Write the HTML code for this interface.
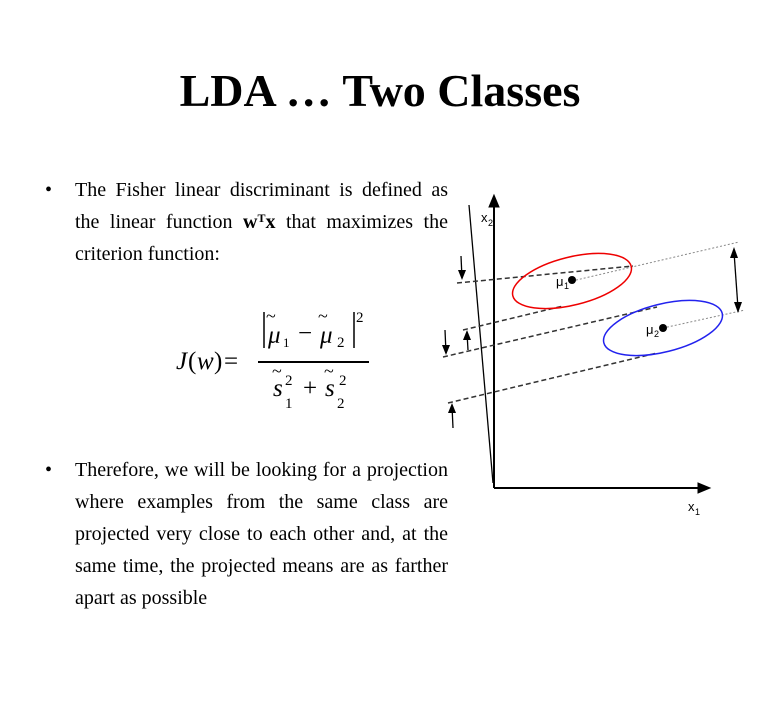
<!DOCTYPE html>
<html><head><style>
body{margin:0;width:760px;height:720px;background:#fff;position:relative;font-family:"Liberation Serif",serif;overflow:hidden}
h1{position:absolute;top:64px;left:0;width:760px;text-align:center;margin:0;font-size:46px;font-weight:bold}
.b{position:absolute;left:75px;width:373px;font-size:20px;line-height:32px;text-align:justify;text-align-last:left}
.b sup{font-size:12px;line-height:0;vertical-align:6px}
.dot{position:absolute;left:45px;font-size:20px;line-height:32px}
</style></head><body>
<h1>LDA … Two Classes</h1>
<div class="dot" style="top:174px">•</div>
<div class="b" style="top:174px">The Fisher linear discriminant is defined as the linear function <b>w<sup>T</sup>x</b> that maximizes the criterion function:</div>
<div class="dot" style="top:454px">•</div>
<div class="b" style="top:454px">Therefore, we will be looking for a projection where examples from the same class are projected very close to each other and, at the same time, the projected means are as farther apart as possible</div>
<svg width="760" height="720" style="position:absolute;left:0;top:0">
<g font-family="Liberation Serif" font-style="italic" font-size="25">
<text x="176" y="369">J</text><text x="188" y="369" font-style="normal">(</text><text x="197" y="369">w</text><text x="214" y="369" font-style="normal">)</text><text x="224" y="369" font-style="normal">=</text>
<line x1="258" y1="362" x2="369" y2="362" stroke="#000" stroke-width="2"/>
<line x1="264" y1="312" x2="264" y2="348" stroke="#000" stroke-width="1.5"/>
<line x1="354" y1="312" x2="354" y2="348" stroke="#000" stroke-width="1.5"/>
<text x="268" y="343">μ</text><text x="266" y="322" font-style="normal" font-size="18">~</text><text x="283" y="347" font-style="normal" font-size="13">1</text>
<text x="298" y="341" font-style="normal">−</text>
<text x="320" y="343">μ</text><text x="318" y="322" font-style="normal" font-size="18">~</text><text x="337" y="347" font-style="normal" font-size="15">2</text>
<text x="356" y="322" font-style="normal" font-size="15">2</text>
<text x="273" y="396">s</text><text x="272" y="377" font-style="normal" font-size="18">~</text><text x="285" y="408" font-style="normal" font-size="15">1</text><text x="285" y="385" font-style="normal" font-size="15">2</text>
<text x="303" y="396" font-style="normal">+</text>
<text x="325" y="396">s</text><text x="324" y="377" font-style="normal" font-size="18">~</text><text x="337" y="408" font-style="normal" font-size="15">2</text><text x="339" y="385" font-style="normal" font-size="15">2</text>
</g>
<g stroke="#000" fill="none">
<line x1="494" y1="488" x2="494" y2="200" stroke-width="2"/>
<polygon points="494,195 489,207 499,207" fill="#000"/>
<line x1="494" y1="488" x2="703" y2="488" stroke-width="2"/>
<polygon points="710,488 698,483 698,493" fill="#000"/>
<line x1="469" y1="205" x2="493" y2="483" stroke-width="1.3"/>
<g stroke-dasharray="5,3" stroke-width="1.5" stroke="#333">
<line x1="457" y1="283" x2="633" y2="266"/>
<line x1="463" y1="330" x2="563" y2="306"/>
<line x1="443" y1="357" x2="657" y2="307"/>
<line x1="448" y1="403" x2="657" y2="353"/>
</g>
<g stroke-dasharray="2,2" stroke="#888">
<line x1="572" y1="281" x2="739" y2="242"/>
<line x1="663" y1="328" x2="745" y2="310"/>
</g>
<ellipse cx="572" cy="281" rx="61" ry="24" transform="rotate(-14 572 281)" stroke="#e00" stroke-width="1.5"/>
<ellipse cx="663" cy="328" rx="61" ry="24" transform="rotate(-14 663 328)" stroke="#22e" stroke-width="1.5"/>
<g stroke-width="1.3">
<line x1="461" y1="256" x2="462" y2="278"/><line x1="445" y1="330" x2="446" y2="353"/>
<line x1="468" y1="350" x2="467" y2="333"/><line x1="453" y1="428" x2="452" y2="406"/>
<line x1="734" y1="252" x2="738" y2="308"/>
</g>
<g fill="#000" stroke="none">
<polygon points="462,280 458,270 466,270"/><polygon points="446,355 442,345 450,345"/>
<polygon points="467,330 463,340 471,340"/><polygon points="452,403 448,413 456,413"/>
<polygon points="734,247 730,258 738,258"/><polygon points="738,313 734,302 742,302"/>
<circle cx="572" cy="280" r="4"/><circle cx="663" cy="328" r="4"/>
</g>
</g>
<g font-family="Liberation Sans" font-size="13">
<text x="556" y="286">μ</text><text x="564" y="289" font-size="9">1</text>
<text x="646" y="334">μ</text><text x="654" y="337" font-size="9">2</text>
<text x="481" y="222">x</text><text x="488" y="226" font-size="9">2</text>
<text x="688" y="511">x</text><text x="695" y="515" font-size="9">1</text>
</g>
</svg>
</body></html>
